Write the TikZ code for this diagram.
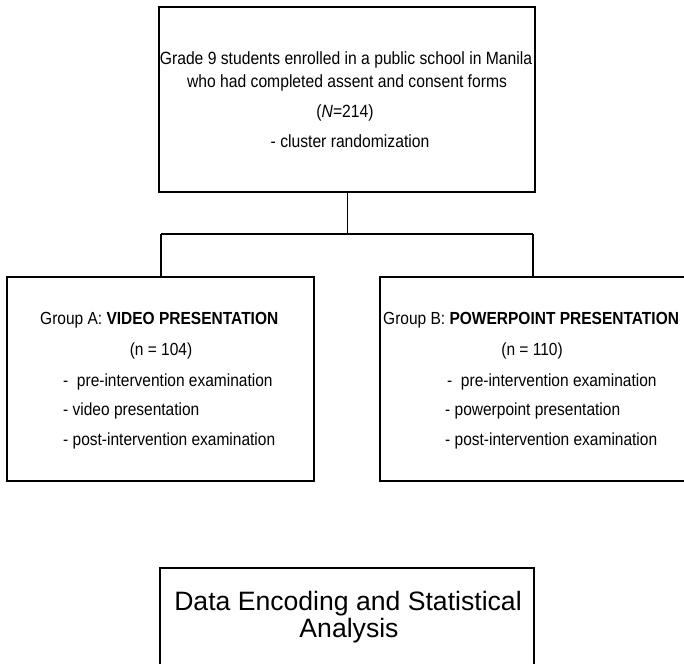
\documentclass[tikz,border=0pt]{standalone}
\usepackage{fontspec}
\setmainfont{Liberation Sans}
\newfontfamily\boxfont[FakeStretch=0.886]{Liberation Sans}
\newfontfamily\bigfont{Liberation Sans}
\begin{document}
\begin{tikzpicture}[x=1pt,y=-1pt,
  box/.style={draw=black,line width=1.6pt,rectangle,inner sep=0pt},
  wire/.style={draw=black,line width=1.5pt},
  toptext/.style={anchor=base,inner sep=0pt,font=\boxfont\fontsize{17.7}{20}\selectfont},
  grptext/.style={anchor=base west,inner sep=0pt,font=\boxfont\fontsize{17.5}{20}\selectfont},
  grpmid/.style={anchor=base,inner sep=0pt,font=\boxfont\fontsize{17.5}{20}\selectfont},
  bigtext/.style={anchor=base,inner sep=0pt,font=\bigfont\fontsize{26.6}{30}\selectfont}]
\useasboundingbox (0,0) rectangle (684,663);
\clip (0,0) rectangle (684,663);
\fill[white] (0,0) rectangle (684,663);
% boxes
\node[box,minimum width=376pt,minimum height=185pt] (top) at (347,99.5) {};
\node[box,minimum width=307pt,minimum height=204pt] (ga) at (160.5,379) {};
\node[box,minimum width=320pt,minimum height=204pt] (gb) at (540,379) {};
\node[box,minimum width=374pt,minimum height=140pt] (da) at (347,638) {};
% connectors
\coordinate (j) at (347.5,234);
\coordinate (jl) at (161,234);
\coordinate (jr) at (533,234);
\draw[wire] (top.south -| j) -- (j);
\draw[wire] (jl) -- (jr);
\draw[wire] (jl) -- (jl |- ga.north);
\draw[wire] (jr) -- (jr |- gb.north);
% top text
\node[toptext] (t1) at (346,65) {Grade 9 students enrolled in a public school in Manila};
\node[toptext] (t2) at (347,88) {who had completed assent and consent forms};
\node[toptext] (t3) at (345,118) {(\textit{N}=214)};
\node[toptext] (t4) at (350,147) {- cluster randomization};
% group A
\node[grptext] (a1) at (40,324) {Group A: \textbf{VIDEO PRESENTATION}};
\node[grpmid] (a2) at (161,355) {(n = 104)};
\node[grptext] (a3) at (63,386) {-\ \ pre-intervention examination};
\node[grptext] (a4) at (63,415) {- video presentation};
\node[grptext] (a5) at (63,445) {- post-intervention examination};
% group B
\node[grptext] (b1) at (383,324) {Group B: \textbf{POWERPOINT PRESENTATION}};
\node[grpmid] (b2) at (532,355) {(n = 110)};
\node[grptext] (b3) at (447,386) {-\ \ pre-intervention examination};
\node[grptext] (b4) at (445,415) {- powerpoint presentation};
\node[grptext] (b5) at (445,445) {- post-intervention examination};
% bottom
\node[bigtext] (d1) at (348,610) {Data Encoding and Statistical};
\node[bigtext] (d2) at (349,637) {Analysis};
\end{tikzpicture}
\end{document}
